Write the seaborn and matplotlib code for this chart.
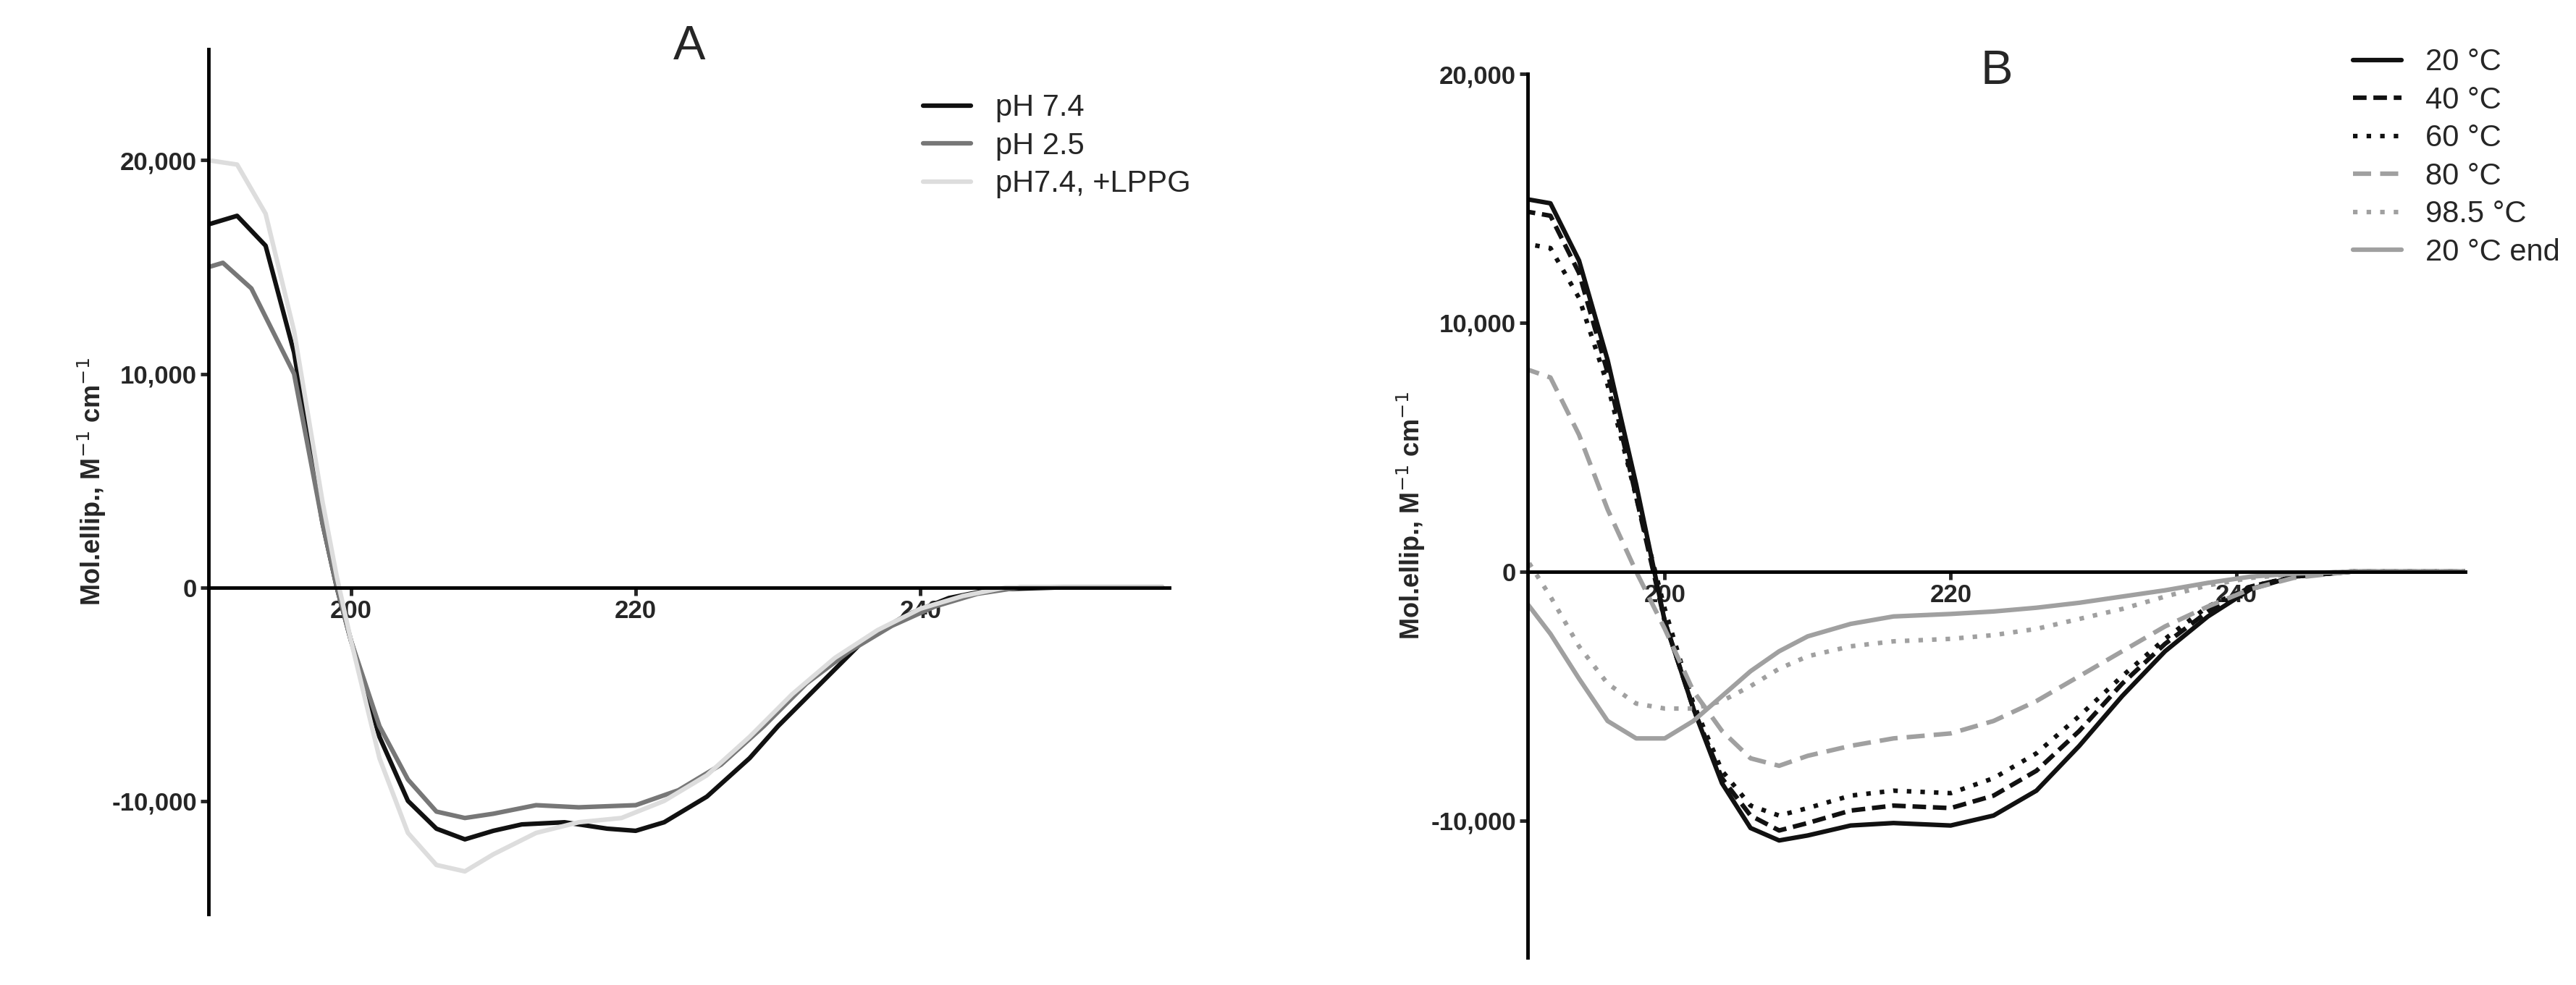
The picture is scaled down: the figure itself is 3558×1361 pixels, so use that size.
import numpy as np
import pandas as pd
import seaborn as sns
import matplotlib.pyplot as plt

# ---- Panel A data (wavelength nm, mol. ellipticity) ----
wl_a = [190, 192, 194, 196, 198, 199, 200, 202, 204, 206, 208, 210, 212, 215, 218, 220,
        222, 225, 228, 230, 233, 236, 239, 242, 245, 250, 257]
ph74 = [17000, 17400, 16000, 11000, 3000, 0, -2500, -7000, -10000, -11300, -11800, -11400,
        -11100, -11000, -11300, -11400, -11000, -9800, -8000, -6500, -4500, -2500, -1300,
        -500, -100, 0, 0]
wl_a2 = [190, 191, 193, 196, 198, 199, 200, 202, 204, 206, 208, 210, 213, 216, 220, 223,
         226, 229, 232, 235, 238, 241, 244, 247, 257]
ph25 = [15000, 15200, 14000, 10000, 3000, 0, -2500, -6500, -9000, -10500, -10800, -10600,
        -10200, -10300, -10200, -9500, -8300, -6500, -4500, -3000, -1800, -900, -300, 0, 0]
wl_a3 = [190, 192, 194, 196, 198, 199, 200, 202, 204, 206, 208, 210, 213, 216, 219, 222,
         225, 228, 231, 234, 237, 240, 243, 246, 257]
lppg = [20000, 19800, 17500, 12000, 4000, 500, -2500, -8000, -11500, -13000, -13300, -12500,
        -11500, -11000, -10800, -10000, -8800, -7000, -5000, -3300, -2000, -1000, -400, 0, 0]

# ---- Panel B data ----
wl_b = [190, 192, 194, 196, 198, 200, 202, 204, 206, 208, 210, 213, 216, 220, 223, 226,
        229, 232, 235, 238, 241, 244, 248, 256]
t20 = [15000, 14800, 12500, 8500, 3500, -2000, -5500, -8500, -10300, -10800, -10600, -10200,
       -10100, -10200, -9800, -8800, -7000, -5000, -3200, -1800, -700, -200, 0, 0]
t40 = [14500, 14300, 12000, 8000, 3000, -2000, -5500, -8300, -9800, -10400, -10100, -9600,
       -9400, -9500, -9000, -8000, -6400, -4500, -2900, -1600, -600, -200, 0, 0]
t60 = [13200, 13000, 11000, 7500, 3000, -1500, -5300, -8000, -9400, -9800, -9500, -9000,
       -8800, -8900, -8300, -7300, -5800, -4200, -2700, -1400, -600, -200, 0, 0]
t80 = [8200, 7800, 5500, 2500, 0, -2300, -4800, -6400, -7500, -7800, -7400, -7000, -6700,
       -6500, -6000, -5200, -4200, -3200, -2200, -1400, -700, -250, 0, 0]
t985 = [800, -1000, -3000, -4500, -5300, -5500, -5500, -5200, -4600, -3900, -3400, -3000,
        -2800, -2700, -2550, -2300, -1900, -1500, -1000, -550, -250, -100, 0, 0]
t20end = [-1000, -2500, -4300, -6000, -6700, -6700, -6000, -5000, -4000, -3200, -2600, -2100,
          -1800, -1700, -1600, -1450, -1250, -1000, -750, -450, -200, -80, 0, 0]

sns.set_style('white')
plt.rcParams['font.family'] = ['Liberation Sans', 'DejaVu Sans']

fig = plt.figure(figsize=(35.58, 13.61), dpi=100)
axA = fig.add_axes([0.081, 0.072, 0.373, 0.878])
axB = fig.add_axes([0.593, 0.028, 0.364, 0.897])

seriesA = [(wl_a, ph74, 'pH 7.4', '#111111', '-'),
           (wl_a2, ph25, 'pH 2.5', '#777777', '-'),
           (wl_a3, lppg, 'pH7.4, +LPPG', '#dddddd', '-')]
for x, y, lab, c, ls in seriesA:
    sns.lineplot(x=x, y=y, ax=axA, color=c, linestyle=ls, linewidth=4.5, label=lab)

seriesB = [(t20, '20 \u00b0C', '#111111', '-'),
           (t40, '40 \u00b0C', '#111111', (0, (3, 1.5))),
           (t60, '60 \u00b0C', '#111111', (0, (1, 2))),
           (t80, '80 \u00b0C', '#a0a0a0', (0, (4, 2))),
           (t985, '98.5 \u00b0C', '#a0a0a0', (0, (1, 2))),
           (t20end, '20 \u00b0C end', '#a0a0a0', '-')]
for y, lab, c, ls in seriesB:
    sns.lineplot(x=wl_b, y=y, ax=axB, color=c, linestyle=ls, linewidth=4.5, label=lab)

for ax, xlim, ylim, yticks, title in [
        (axA, (190, 257.5), (-15300, 25200), [-10000, 0, 10000, 20000], 'A'),
        (axB, (190.4, 256), (-15500, 20000), [-10000, 0, 10000, 20000], 'B')]:
    ax.set_xlim(*xlim)
    ax.set_ylim(*ylim)
    ax.spines['bottom'].set_position(('data', 0))
    ax.spines['top'].set_visible(False)
    ax.spines['right'].set_visible(False)
    for s in ['left', 'bottom']:
        ax.spines[s].set_linewidth(3.5)
        ax.spines[s].set_color('black')
    ax.set_xticks([200, 220, 240])
    ax.set_yticks(yticks)
    ax.set_yticklabels(['{:,}'.format(v) for v in yticks])
    ax.tick_params(axis='both', labelsize=25, width=3.5, length=8, direction='out',
                   left=True, bottom=True)
    for t in ax.get_xticklabels() + ax.get_yticklabels():
        t.set_fontweight('bold')
    ax.set_ylabel('Mol.ellip., M$^{-1}$ cm$^{-1}$', fontsize=26, fontweight='bold')
    ax.set_title(title, fontsize=48, pad=-10)

axA.legend(loc='upper right', frameon=False, fontsize=30, handlelength=1.6,
           bbox_to_anchor=(1.05, 0.98), labelspacing=0.3)
axB.legend(loc='upper right', frameon=False, fontsize=30, handlelength=1.6,
           bbox_to_anchor=(1.13, 1.06), labelspacing=0.3)

fig.savefig('out.png', dpi=100)
